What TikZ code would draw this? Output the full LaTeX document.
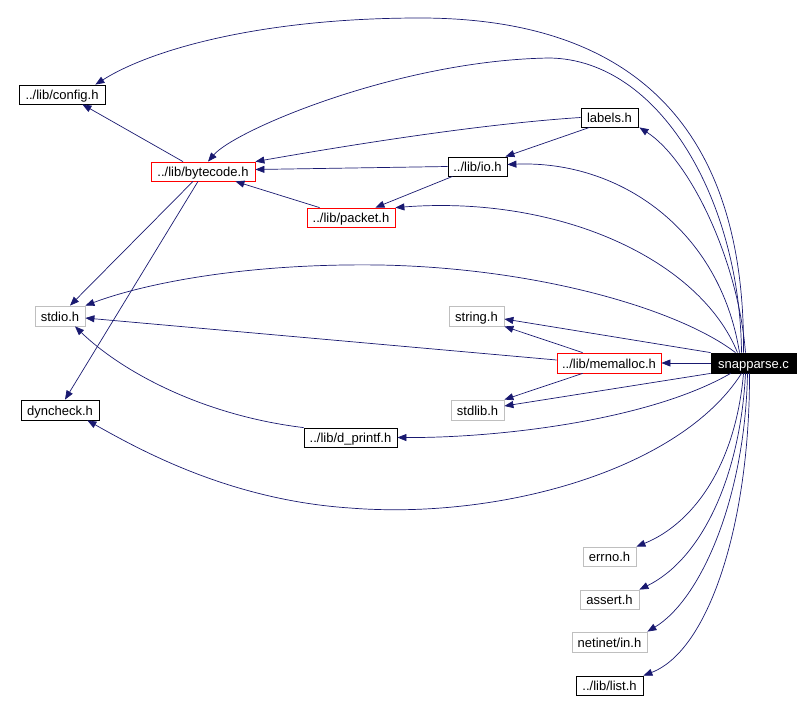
\documentclass[tikz,border=0pt]{standalone}
\usepackage{fontspec}
\setmainfont{Liberation Sans}
\usetikzlibrary{arrows.meta,calc}
\definecolor{edgeblue}{HTML}{191970}
\definecolor{boxgray}{HTML}{BFBFBF}
\begin{document}
\begin{tikzpicture}[x=1pt,y=-1pt,
  box/.style={draw=black,line width=0.8pt,inner sep=0pt,minimum height=19pt,text height=12pt,text depth=2pt,font=\fontsize{13}{15}\selectfont,fill=white},
  sysbox/.style={box,draw=boxgray},
  redbox/.style={box,draw=red},
  mainbox/.style={box,draw=black,fill=black,text=white},
  dep/.style={draw=edgeblue,line width=0.7pt,-{Triangle[length=9pt,width=7pt]},color=edgeblue}]
\useasboundingbox (0,0) rectangle (812,701);
% nodes
\node[box,minimum width=86pt] (config) at (62,94.5) {../lib/config.h};
\node[redbox,minimum width=104pt] (bytecode) at (203,171.5) {../lib/bytecode.h};
\node[box,minimum width=57pt] (labels) at (609.5,117.5) {labels.h};
\node[box,minimum width=59pt] (io) at (477.5,166.5) {../lib/io.h};
\node[redbox,minimum width=88pt] (packet) at (351,217.5) {../lib/packet.h};
\node[sysbox,minimum width=50pt,minimum height=20pt] (stdio) at (60,316) {stdio.h};
\node[sysbox,minimum width=55pt,minimum height=20pt] (string) at (476.5,316) {string.h};
\node[redbox,minimum width=104pt,minimum height=20pt] (memalloc) at (609,363) {../lib/memalloc.h};
\node[mainbox,minimum width=85pt,minimum height=20pt] (snap) at (753.5,363) {snapparse.c};
\node[sysbox,minimum width=53pt,minimum height=20pt] (stdlib) at (477.5,410) {stdlib.h};
\node[box,minimum width=78pt,minimum height=20pt] (dyncheck) at (60,410) {dyncheck.h};
\node[box,minimum width=93pt] (dprintf) at (350.5,437.5) {../lib/d\_printf.h};
\node[sysbox,minimum width=53pt] (errno) at (609.5,556.5) {errno.h};
\node[sysbox,minimum width=59pt] (assert) at (609.5,599.5) {assert.h};
\node[sysbox,minimum width=75pt,minimum height=20pt] (netinet) at (609.5,642) {netinet/in.h};
\node[box,minimum width=67pt] (list) at (609.5,685.5) {../lib/list.h};
% edges from snapparse.c
\draw[dep] ($(snap.north)+(-10,0)$) .. controls (745,180) and (680,18) .. (420,18) .. controls (260,18) and (150,50) .. ($(config.north east)+(-10,0)$);
\draw[dep] ($(snap.north)+(-12,0)$) .. controls (740,200) and (660,60) .. (550,58) .. controls (400,60) and (235,130) .. ($(bytecode.north)+(5,0)$);
\draw[dep] ($(snap.north)+(-8,0)$) .. controls (738,260) and (690,160) .. ($(labels.south east)+(1,0)$);
\draw[dep] ($(snap.north)+(-14,0)$) .. controls (720,230) and (620,160) .. ($(io.east)+(0,-2)$);
\draw[dep] ($(snap.north)+(-16,0)$) .. controls (700,260) and (560,195) .. (packet.north east);
\draw[dep] ($(snap.north)+(-18,0)$) .. controls (680,310) and (540,268) .. (380,265) .. controls (240,263) and (140,285) .. (stdio.north east);
\draw[dep] (snap.north west) -- ($(string.east)+(0,3)$);
\draw[dep] (snap.west) -- (memalloc.east);
\draw[dep] (snap.south west) -- ($(stdlib.east)+(0,-4)$);
\draw[dep] ($(snap.south west)+(20,0)$) .. controls (650,420) and (500,438) .. (dprintf.east);
\draw[dep] ($(snap.south)+(-12,0)$) .. controls (680,470) and (500,520) .. (350,508) .. controls (230,500) and (140,450) .. ($(dyncheck.south east)+(-12,0)$);
\draw[dep] ($(snap.south)+(-10,0)$) .. controls (735,470) and (690,525) .. (errno.north east);
\draw[dep] ($(snap.south)+(-8,0)$) .. controls (740,480) and (700,560) .. (assert.north east);
\draw[dep] ($(snap.south)+(-6,0)$) .. controls (745,500) and (700,600) .. (netinet.north east);
\draw[dep] ($(snap.south)+(-4,0)$) .. controls (750,520) and (710,650) .. (list.north east);
% other edges
\draw[dep] ($(bytecode.north)+(-20,0)$) -- ($(config.south east)+(-23,0)$);
\draw[dep] ($(bytecode.south)+(-10,0)$) -- ($(stdio.north)+(10,0)$);
\draw[dep] ($(bytecode.south)+(-5,0)$) -- ($(dyncheck.north)+(5,0)$);
\draw[dep] (labels.west) .. controls (480,124) and (350,145) .. (bytecode.north east);
\draw[dep] ($(labels.south west)+(9,0)$) -- ($(io.north east)+(-2,0)$);
\draw[dep] (io.west) -- ($(bytecode.east)+(0,-2)$);
\draw[dep] ($(io.south west)+(5,0)$) -- ($(packet.north east)+(-20,0)$);
\draw[dep] ($(packet.north west)+(13,0)$) -- ($(bytecode.south east)+(-20,0)$);
\draw[dep] ($(memalloc.west)+(0,-3)$) -- ($(stdio.east)+(0,2)$);
\draw[dep] ($(memalloc.north west)+(26,0)$) -- (string.south east);
\draw[dep] ($(memalloc.south west)+(26,0)$) -- (stdlib.north east);
\draw[dep] (dprintf.north west) .. controls (200,415) and (120,370) .. ($(stdio.south)+(15,0)$);
\end{tikzpicture}
\end{document}
